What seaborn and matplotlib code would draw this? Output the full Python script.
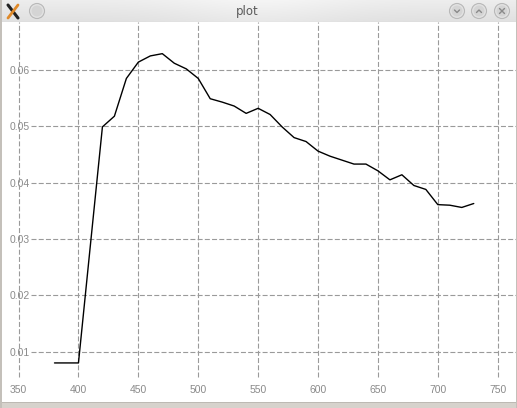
import numpy as np
import pandas as pd
import matplotlib
matplotlib.use("Agg")
import matplotlib.pyplot as plt
import seaborn as sns
from matplotlib.patches import Circle, Rectangle

# ---- data ----
wavelength = [380, 390, 400, 410, 420, 430, 440, 450, 460, 470, 480, 490, 500,
              510, 520, 530, 540, 550, 560, 570, 580, 590, 600, 610, 620, 630,
              640, 650, 660, 670, 680, 690, 700, 710, 720, 730]
value = [0.0080, 0.0080, 0.0080, 0.0290, 0.0499, 0.0518, 0.0585, 0.0614, 0.0625,
         0.0629, 0.0612, 0.0602, 0.0585, 0.0549, 0.0543, 0.0536, 0.0523, 0.0532,
         0.0521, 0.0499, 0.0480, 0.0473, 0.0456, 0.0447, 0.0440, 0.0433, 0.0433,
         0.0421, 0.0405, 0.0414, 0.0395, 0.0388, 0.0361, 0.0360, 0.0356, 0.0363]
x_ticks = [350, 400, 450, 500, 550, 600, 650, 700, 750]
y_ticks = [0.00, 0.01, 0.02, 0.03, 0.04, 0.05, 0.06]
window_title = "plot"

df = pd.DataFrame({"wavelength": wavelength, "value": value})

sns.set_style("white")
plt.rcParams["font.family"] = ["Liberation Sans", "DejaVu Sans"]
plt.rcParams["lines.scale_dashes"] = False

W, H = 517, 408
TB = 22  # title bar height in px
fig = plt.figure(figsize=(W / 100, H / 100), dpi=100)
fig.patch.set_facecolor("white")

ax = fig.add_axes([0, 0, 1, (H - TB) / H])
ax.set_facecolor("white")
for s in ax.spines.values():
    s.set_visible(False)

ax.set_xlim(334.5, 766.1)
ax.set_ylim(0.0, 0.06852)

grid_kw = dict(color="#9a9a9a", lw=0.8, dashes=(3.6, 1.6), zorder=1)
for xv in x_ticks:
    ax.axvline(xv, ymin=(H - 377) / (H - TB), ymax=1, **grid_kw)
for yv in y_ticks:
    if yv > 0:
        ax.axhline(yv, xmin=31 / W, xmax=1, **grid_kw)

sns.lineplot(data=df, x="wavelength", y="value", ax=ax, color="black",
             lw=1.0, zorder=3)

ax.set_xticks(x_ticks)
ax.set_xticklabels([str(v) for v in x_ticks])
ax.set_yticks(y_ticks)
ax.set_yticklabels([f"{v:.2f}" for v in y_ticks])
ax.tick_params(axis="x", length=0, pad=-16.3, labelsize=7.5, labelcolor="#8a8a8a")
ax.tick_params(axis="y", length=0, pad=-21.6, labelsize=7.5, labelcolor="#8a8a8a")
ax.set_xlabel("")
ax.set_ylabel("")

# ---- window frame ----
fig.patches.append(Rectangle((0, 0), 1, 5 / H, transform=fig.transFigure,
                             facecolor="#d6d2cc", edgecolor="none", zorder=10))
fig.patches.append(Rectangle((0, 5 / H), 1, 1 / H, transform=fig.transFigure,
                             facecolor="#bdb9b3", edgecolor="none", zorder=10))
fig.patches.append(Rectangle((0, 0), 1.5 / W, 1, transform=fig.transFigure,
                             facecolor="#c4c0ba", edgecolor="none", zorder=10))
fig.patches.append(Rectangle((1 - 1.5 / W, 0), 1.5 / W, 1, transform=fig.transFigure,
                             facecolor="#c4c0ba", edgecolor="none", zorder=10))

# ---- title bar ----
tax = fig.add_axes([0, (H - TB) / H, 1, TB / H])
grad = np.linspace(0, 1, TB)[:, None] * np.ones((1, W))
xs = np.linspace(-1, 1, W)[None, :]
shade = 0.93 - 0.05 * grad + 0.03 * np.exp(-(xs / 0.35) ** 2)
tax.imshow(np.dstack([shade, shade, shade]), extent=(0, W, TB, 0), aspect="auto")
tax.set_xlim(0, W)
tax.set_ylim(TB, 0)
tax.axis("off")
tax.axhline(TB - 0.5, color="#c8c8c8", lw=0.8)
tax.text(247, 11.5, window_title, ha="center", va="center", fontsize=8.5,
         color="#5a5a5a", family=["DejaVu Sans"])

# X logo
tax.plot([8, 18], [5, 18], color="#222222", lw=2.2, solid_capstyle="round")
tax.plot([18, 8], [5, 18], color="#e08a2a", lw=2.0, solid_capstyle="round")

def button(cx, glyph=None):
    tax.add_patch(Circle((cx, 11), 7.5, facecolor="#e2e2e2", edgecolor="#b8b8b8", lw=0.8))
    tax.add_patch(Circle((cx, 11), 5.5, facecolor="#d4d4d4", edgecolor="none"))
    if glyph == "down":
        tax.plot([cx - 2.5, cx, cx + 2.5], [10, 12.5, 10], color="#8a8a8a", lw=1)
    elif glyph == "up":
        tax.plot([cx - 2.5, cx, cx + 2.5], [12.5, 10, 12.5], color="#8a8a8a", lw=1)
    elif glyph == "x":
        tax.plot([cx - 2.5, cx + 2.5], [8.5, 13.5], color="#8a8a8a", lw=1)
        tax.plot([cx - 2.5, cx + 2.5], [13.5, 8.5], color="#8a8a8a", lw=1)

button(37)
button(457, "down")
button(479, "up")
button(502, "x")

fig.savefig("out.png", dpi=100)
